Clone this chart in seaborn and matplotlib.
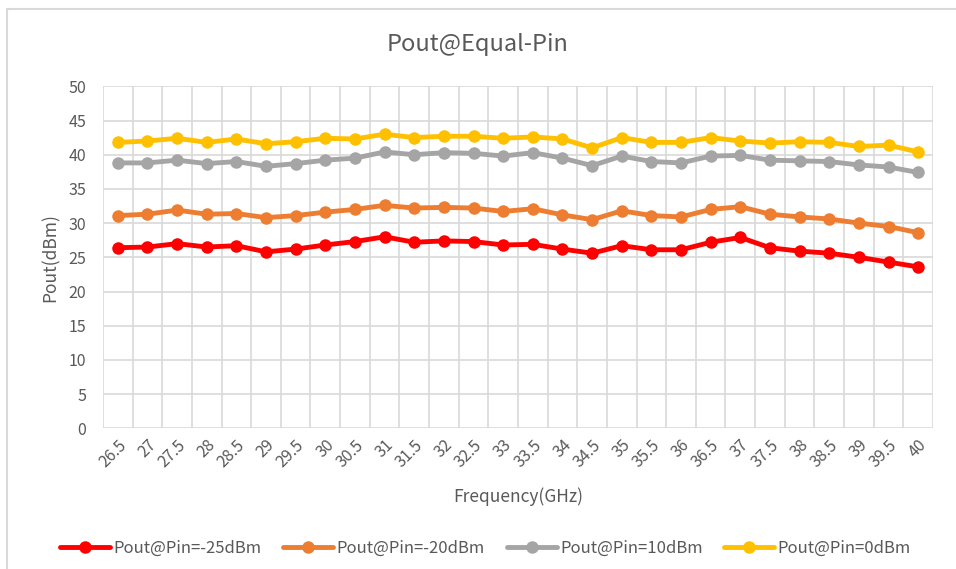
import numpy as np
import pandas as pd
import matplotlib
matplotlib.use("Agg")
import matplotlib.pyplot as plt
import seaborn as sns
from matplotlib.patches import Rectangle

# Frequency categories (GHz)
freqs = ["26.5", "27", "27.5", "28", "28.5", "29", "29.5", "30", "30.5", "31",
         "31.5", "32", "32.5", "33", "33.5", "34", "34.5", "35", "35.5", "36",
         "36.5", "37", "37.5", "38", "38.5", "39", "39.5", "40"]

# Pout values (dBm)
pin_m25 = [26.4, 26.5, 27.0, 26.5, 26.7, 25.8, 26.2, 26.8, 27.3, 28.0, 27.2, 27.4, 27.3, 26.8,
           26.9, 26.2, 25.6, 26.7, 26.1, 26.1, 27.2, 27.9, 26.4, 25.9, 25.6, 25.0, 24.3, 23.6]
pin_m20 = [31.1, 31.3, 31.9, 31.3, 31.4, 30.8, 31.1, 31.6, 32.0, 32.6, 32.2, 32.3, 32.2, 31.7,
           32.1, 31.2, 30.5, 31.8, 31.1, 30.9, 32.0, 32.4, 31.3, 30.9, 30.6, 30.0, 29.5, 28.6]
pin_10 = [38.8, 38.8, 39.2, 38.7, 39.0, 38.3, 38.7, 39.2, 39.5, 40.4, 40.0, 40.3, 40.2, 39.8,
          40.3, 39.5, 38.4, 39.8, 39.0, 38.8, 39.8, 39.9, 39.2, 39.1, 39.0, 38.5, 38.2, 37.4]
pin_0 = [41.8, 42.0, 42.4, 41.8, 42.3, 41.6, 41.9, 42.4, 42.3, 43.0, 42.5, 42.7, 42.7, 42.4,
         42.6, 42.3, 41.0, 42.5, 41.8, 41.8, 42.5, 42.0, 41.7, 41.9, 41.8, 41.2, 41.4, 40.4]

series_names = ["Pout@Pin=-25dBm", "Pout@Pin=-20dBm", "Pout@Pin=10dBm", "Pout@Pin=0dBm"]
colors = ["#ff0000", "#ed7d31", "#a5a5a5", "#ffc000"]

rows = []
for name, vals in zip(series_names, [pin_m25, pin_m20, pin_10, pin_0]):
    for f, v in zip(freqs, vals):
        rows.append({"Frequency": f, "Pout": v, "Series": name})
df = pd.DataFrame(rows)

sns.set_style("white")
plt.rcParams["font.family"] = ["Noto Sans CJK SC", "DejaVu Sans"]
text_col = "#595959"

fig = plt.figure(figsize=(9.56, 5.69), dpi=100)
fig.patch.set_facecolor("white")
ax = fig.add_axes([103 / 956, 1 - 428.3 / 569, 830 / 956, 342 / 569])

sns.lineplot(data=df, x="Frequency", y="Pout", hue="Series", hue_order=series_names,
             palette=colors, marker="o", markersize=9, markeredgewidth=0,
             linewidth=3.5, sort=False, ax=ax)

n = len(freqs)
ax.set_xlim(-0.5, n - 0.5)
ax.set_ylim(0, 50)
ax.set_yticks(np.arange(0, 51, 5))
ax.set_xticks(np.arange(n))
ax.set_xticklabels(freqs, rotation=45, ha="right", rotation_mode="anchor")
ax.set_xticks(np.arange(n + 1) - 0.5, minor=True)
ax.grid(True, which="minor", axis="x", color="#d9d9d9", linewidth=1.2)
ax.grid(True, which="major", axis="y", color="#d9d9d9", linewidth=1.2)
ax.grid(False, which="major", axis="x")
ax.set_axisbelow(True)
for s in ax.spines.values():
    s.set_visible(False)
ax.tick_params(axis="both", which="both", length=0, labelsize=11.5, colors=text_col)
ax.tick_params(axis="y", pad=12)
ax.tick_params(axis="x", pad=6)

ax.set_xlabel("Frequency(GHz)", fontsize=12.5, color=text_col, labelpad=12)
ax.set_ylabel("Pout(dBm)", fontsize=12.5, color=text_col, labelpad=6)
fig.text(0.5, 1 - 45 / 569, "Pout@Equal-Pin", ha="center", va="center",
         fontsize=17, color=text_col)

handles, labels = ax.get_legend_handles_labels()
ax.legend(handles, labels, loc="center", bbox_to_anchor=(0.508, 1 - 548 / 569),
          bbox_transform=fig.transFigure, ncol=4, frameon=False, fontsize=12,
          labelcolor=text_col, handlelength=3, handletextpad=0.2, columnspacing=1.3)

# chart frame
fig.patches.append(Rectangle((7 / 956, -0.05), 1.1, 1 - 9 / 569 + 0.05,
                             transform=fig.transFigure, fill=False,
                             edgecolor="#d9d9d9", linewidth=1.5))

fig.savefig("out.png", dpi=100)
